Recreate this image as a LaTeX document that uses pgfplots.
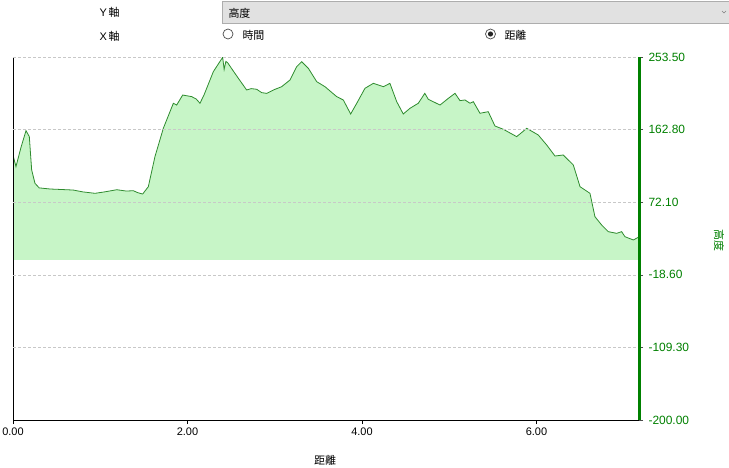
\documentclass[border=0pt]{standalone}
\usepackage{fontspec}
\usepackage{pgfplots}
\pgfplotsset{compat=1.18}
\setmainfont{Liberation Sans}
\newfontfamily\cjk{Noto Sans CJK TC}

\definecolor{fillgreen}{RGB}{199,245,199}
\definecolor{linegreen}{RGB}{46,139,46}
\definecolor{axgreen}{RGB}{0,128,0}
\definecolor{gridgray}{RGB}{200,200,200}
\definecolor{boxgray}{RGB}{225,225,225}
\definecolor{boxedge}{RGB}{173,173,173}

\pgfplotstableread{
x v
0.000 131.0
0.034 116.5
0.090 140.0
0.149 161.5
0.187 154.0
0.214 112.3
0.252 95.7
0.300 90.0
0.424 88.6
0.550 88.0
0.690 87.3
0.800 85.0
0.940 83.2
1.050 85.0
1.190 87.7
1.300 86.0
1.379 86.5
1.430 84.0
1.486 82.3
1.551 91.5
1.627 129.0
1.723 164.4
1.838 195.7
1.876 193.5
1.945 206.0
2.048 204.0
2.100 201.0
2.143 195.7
2.189 206.0
2.296 235.2
2.403 253.1
2.420 238.0
2.440 248.0
2.460 246.4
2.544 233.0
2.583 226.9
2.678 212.3
2.730 214.0
2.793 213.2
2.850 209.0
2.908 208.1
3.000 213.0
3.079 216.4
3.175 224.8
3.251 241.4
3.309 247.6
3.385 239.4
3.481 222.7
3.576 216.4
3.710 204.0
3.786 199.8
3.870 182.3
3.940 195.7
4.034 214.4
4.130 220.6
4.245 216.4
4.320 220.6
4.398 197.7
4.473 182.3
4.550 189.4
4.645 195.7
4.720 208.1
4.760 200.7
4.894 193.5
4.990 201.9
5.066 208.1
5.123 199.0
5.181 199.8
5.238 195.7
5.276 197.7
5.352 183.2
5.447 185.2
5.524 167.3
5.620 163.2
5.773 154.0
5.888 164.4
6.020 156.1
6.117 143.6
6.212 129.8
6.307 131.1
6.422 118.6
6.499 91.5
6.613 83.2
6.670 54.0
6.747 43.6
6.823 35.3
6.919 33.2
6.976 35.3
7.014 29.0
7.110 24.9
7.167 28.3
}\elev

\begin{document}
\begin{tikzpicture}
\path[use as bounding box] (0bp,0bp) rectangle (729bp,-468bp);

% controls above the chart
\node[anchor=west, font=\fontsize{11}{13}\selectfont] at (96bp,-12bp) {Y\,{\cjk 軸}};
\node[anchor=west, font=\fontsize{11}{13}\selectfont] at (96bp,-36bp) {X\,{\cjk 軸}};
\draw[boxedge, fill=boxgray] (222.5bp,-1bp) rectangle (730bp,-23.5bp);
\node[anchor=west, font=\cjk\fontsize{11}{13}\selectfont] at (225bp,-13bp) {高度};
\draw[gray, line width=0.6bp] (722bp,-11bp) -- (724bp,-13bp) -- (726bp,-11bp);
\draw[black!70, fill=white, line width=0.7bp] (228bp,-34bp) circle (5bp);
\node[anchor=west, font=\cjk\fontsize{11}{13}\selectfont] at (239bp,-35bp) {時間};
\draw[black!70, fill=white, line width=0.7bp] (490.5bp,-34bp) circle (5bp);
\fill[black!85] (490.5bp,-34bp) circle (2.6bp);
\node[anchor=west, font=\cjk\fontsize{11}{13}\selectfont] at (501bp,-35bp) {距離};

\begin{axis}[
    at={(13bp,-420bp)}, anchor=south west,
    scale only axis,
    width=626bp, height=363bp,
    xmin=0, xmax=7.175,
    ymin=-200, ymax=253.5,
    axis x line*=bottom,
    axis y line*=right,
    x axis line style={black, line width=0.8bp},
    y axis line style={axgreen, line width=3bp},
    axis on top,
    xtick={0,2,4,6},
    ytick={-200,-109.3,-18.6,72.1,162.8,253.5},
    minor tick num=0,
    tick align=outside,
    major tick length=4bp,
    x tick style={black, line width=0.6bp},
    y tick style={black!70, line width=0.6bp},
    /pgf/number format/assume math mode=true,
    xticklabel style={/pgf/number format/.cd, fixed, fixed zerofill, precision=2, /tikz/.cd,
        font=\fontsize{11}{13}\selectfont, text=black},
    yticklabel style={/pgf/number format/.cd, fixed, fixed zerofill, precision=2, /tikz/.cd,
        font=\fontsize{12}{14}\selectfont, text=axgreen, xshift=2bp},
    ymajorgrids,
    major grid style={gridgray, dash pattern=on 3bp off 2bp, line width=0.6bp},
]
\addplot[fill=fillgreen, draw=none] table[x=x, y=v] {\elev} \closedcycle;
\addplot[linegreen, line width=0.8bp] table[x=x, y=v] {\elev};
\draw[black, line width=0.8bp] (rel axis cs:0,0) -- (rel axis cs:0,1);
\end{axis}

\node[font=\cjk\fontsize{11}{13}\selectfont] at (325bp,-460bp) {距離};
\node[rotate=-90, text=axgreen, font=\cjk\fontsize{11}{13}\selectfont] at (719bp,-240bp) {高度};
\end{tikzpicture}
\end{document}
